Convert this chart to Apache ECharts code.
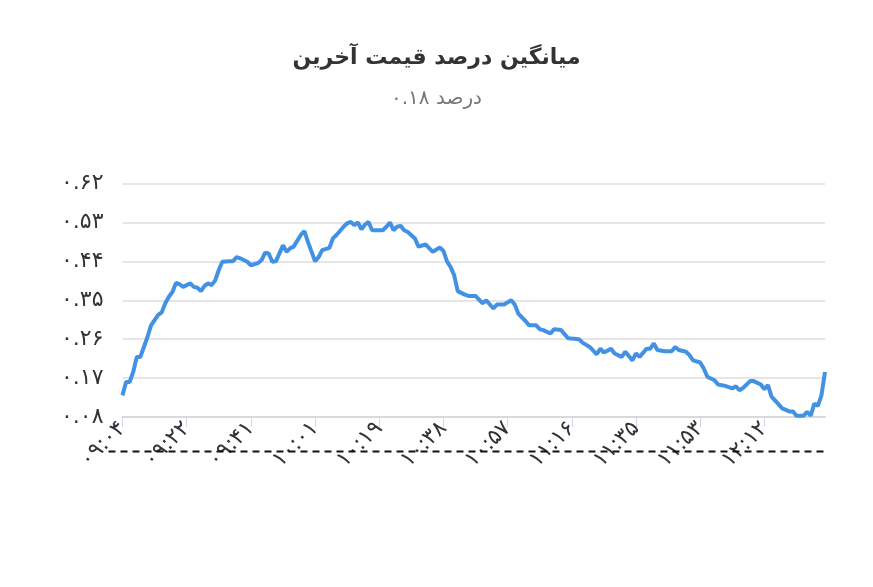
<!DOCTYPE html>
<html>
<head>
<meta charset="utf-8">
<script src="https://cdn.jsdelivr.net/npm/echarts@6/dist/echarts.min.js"></script>
<style>html,body{margin:0;padding:0;background:#fff}#c{width:873px;height:587px}</style>
</head>
<body>
<div id="c"></div>
<script>
// minute index since the first sample (09:04)
const minuteIdx = [0,1,2,3,4,5,6,7,8,10,11,12,13,14,15,16,17,19,20,21,22,23,24,25,26,27,28,30,31,32,33,35,36,38,39,40,41,42,43,45,46,47,48,50,51,52,54,55,56,58,59,60,62,63,64,65,66,67,68,69,70,72,73,74,75,76,77,78,79,80,82,83,85,87,89,90,91,92,93,94,96,97,99,101,102,104,105,107,109,110,111,113,114,116,117,118,120,121,123,124,125,128,129,131,133,134,135,137,138,140,141,143,144,145,147,148,149,150,152,154,155,156,158,159,160,162,163,164,166,167,169,171,172,173,174,176,177,179,180,181,182,184,185,187,188,189,191,192,193,194,195,196,197];
// average last-price percentage
const avgPct = [0.130,0.161,0.161,0.184,0.219,0.219,0.242,0.265,0.292,0.316,0.322,0.343,0.358,0.369,0.390,0.387,0.381,0.389,0.381,0.379,0.371,0.383,0.389,0.385,0.396,0.420,0.439,0.440,0.440,0.450,0.447,0.439,0.431,0.436,0.443,0.460,0.458,0.439,0.440,0.477,0.462,0.470,0.474,0.501,0.510,0.485,0.440,0.450,0.466,0.471,0.493,0.501,0.520,0.528,0.531,0.524,0.530,0.514,0.525,0.531,0.512,0.512,0.512,0.520,0.530,0.512,0.520,0.522,0.512,0.508,0.493,0.474,0.479,0.462,0.472,0.464,0.440,0.427,0.408,0.371,0.363,0.360,0.360,0.343,0.350,0.331,0.340,0.340,0.350,0.340,0.319,0.302,0.292,0.292,0.283,0.281,0.273,0.283,0.281,0.271,0.262,0.260,0.252,0.242,0.225,0.238,0.229,0.238,0.227,0.219,0.231,0.211,0.227,0.219,0.238,0.238,0.250,0.235,0.232,0.232,0.242,0.235,0.231,0.223,0.211,0.206,0.192,0.173,0.165,0.155,0.152,0.146,0.151,0.142,0.147,0.163,0.163,0.155,0.144,0.154,0.127,0.109,0.100,0.093,0.093,0.083,0.083,0.092,0.083,0.111,0.106,0.130,0.184];
const tickLabels = ['۰۹:۰۴','۰۹:۲۲','۰۹:۴۱','۱۰:۰۱','۱۰:۱۹','۱۰:۳۸','۱۰:۵۷','۱۱:۱۶','۱۱:۳۵','۱۱:۵۳','۱۲:۱۲'];
const tickStep = 18;
const lastIdx = 197;
const yMin = 0.08, yMax = 0.62, yStep = 0.09;
const titleText = 'میانگین درصد قیمت آخرین';
const subText = 'درصد ۰.۱۸';

const fa = s => String(s).replace(/[0-9]/g, d => '۰۱۲۳۴۵۶۷۸۹'[d]);
const FONT = 'DejaVu Sans, sans-serif';
const tickVals = tickLabels.map((_, k) => k * tickStep);

const chart = echarts.init(document.getElementById('c'), null, {renderer: 'canvas'});
chart.setOption({
  backgroundColor: '#fff',
  animation: false,
  title: {
    text: titleText,
    subtext: subText,
    left: 'center',
    top: 42,
    itemGap: 20,
    textStyle: {fontFamily: FONT, fontSize: 22, fontWeight: 'bold', color: '#333'},
    subtextStyle: {fontFamily: FONT, fontSize: 20, color: '#777'}
  },
  grid: {left: 122.5, right: 48, top: 183.5, bottom: 170, containLabel: false},
  xAxis: {
    type: 'value',
    min: 0,
    max: lastIdx,
    interval: tickStep,
    axisLine: {show: true, lineStyle: {color: '#d9d9d9', width: 2}},
    axisTick: {show: true, length: 10, lineStyle: {color: '#ccd6eb', width: 1}, customValues: tickVals},
    splitLine: {show: false},
    axisLabel: {
      customValues: tickVals,
      rotate: 45,
      margin: 8,
      fontFamily: FONT,
      fontSize: 22,
      color: '#333',
      formatter: v => tickLabels[Math.round(v / tickStep)] || ''
    }
  },
  yAxis: {
    type: 'value',
    min: yMin,
    max: yMax,
    interval: yStep,
    axisLine: {show: false},
    axisTick: {show: false},
    splitLine: {lineStyle: {color: '#e6e6e6', width: 2}},
    axisLabel: {
      margin: 19,
      fontFamily: FONT,
      fontSize: 22,
      color: '#333',
      formatter: v => fa(v.toFixed(2))
    }
  },
  graphic: [{
    type: 'line',
    left: 106,
    top: 449,
    shape: {x1: 0, y1: 0, x2: 719, y2: 0},
    style: {stroke: '#111', lineWidth: 2, lineDash: [7, 5]},
    z: 10
  }],
  series: [{
    type: 'line',
    data: minuteIdx.map((m, i) => [m, avgPct[i]]),
    showSymbol: false,
    smooth: false,
    lineStyle: {color: '#4391e3', width: 4},
    itemStyle: {color: '#4391e3'}
  }]
});
</script>
</body>
</html>
